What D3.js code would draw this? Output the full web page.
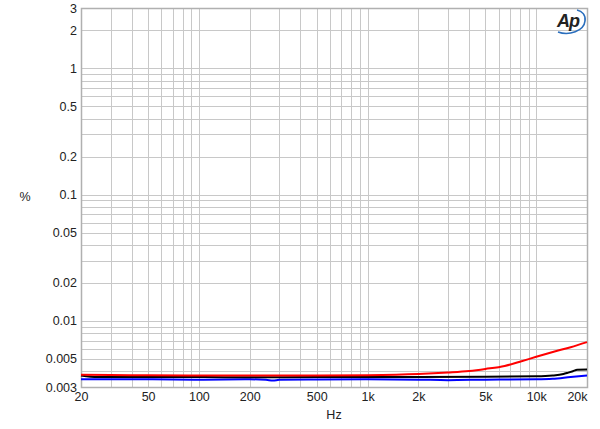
<!DOCTYPE html>
<html>
<head>
<meta charset="utf-8">
<script src="https://cdn.jsdelivr.net/npm/d3@7"></script>
<style>
  body { margin: 0; background: #fff; }
  svg text { font-family: 'Liberation Sans', Arial, sans-serif; fill: #222; }
</style>
</head>
<body>
<script>
// frequencies (Hz) and THD+N (%)
const redFreq = [20, 30, 50, 100, 200, 500, 1000, 2000, 3000, 4000, 5000, 6500, 8000, 10000, 13000, 16000, 20000];
const redPct = [0.00375, 0.00373, 0.00372, 0.0037, 0.0037, 0.0037, 0.00372, 0.0038, 0.00391, 0.00402, 0.00417, 0.0044, 0.00476, 0.0052, 0.00575, 0.0062, 0.0068];

const blackFreq = [20, 25, 50, 100, 200, 500, 1000, 2000, 5000, 10000, 12500, 14500, 15500, 16500, 17500, 20000];
const blackPct = [0.0037, 0.0036, 0.0036, 0.0036, 0.00358, 0.0036, 0.0036, 0.0036, 0.00362, 0.00365, 0.0037, 0.0038, 0.0039, 0.004, 0.0041, 0.00412];

const blueFreq = [20, 50, 100, 200, 250, 275, 300, 500, 1000, 2000, 3000, 5000, 10000, 12500, 16000, 20000];
const bluePct = [0.00345, 0.00345, 0.00343, 0.00345, 0.00342, 0.00337, 0.00342, 0.00344, 0.00345, 0.00343, 0.0034, 0.00343, 0.00345, 0.00348, 0.0036, 0.0037];

const xTicks = [20, 50, 100, 200, 500, 1000, 2000, 5000, 10000, 20000];
const xTickLabels = ['20', '50', '100', '200', '500', '1k', '2k', '5k', '10k', '20k'];
const yTicks = [0.003, 0.005, 0.01, 0.02, 0.05, 0.1, 0.2, 0.5, 1, 2, 3];
const yTickLabels = ['0.003', '0.005', '0.01', '0.02', '0.05', '0.1', '0.2', '0.5', '1', '2', '3'];

const w = 600;
const h = 429;
const plotLeft = 81, plotRight = 587, plotTop = 8, plotBottom = 387;

const svg = d3.select('body').append('svg').attr('width', w).attr('height', h);

const x = d3.scaleLog().domain([20, 20000]).range([plotLeft, plotRight]);
const y = d3.scaleLog().domain([0.003, 3]).range([plotBottom, plotTop]);

// minor grid values: 1..9 times each decade
const gridX = [];
for (let d = 10; d <= 10000; d *= 10) {
  for (let m = 1; m < 10; m++) {
    const v = d * m;
    if (v >= 20 && v <= 20000) gridX.push(v);
  }
}
const gridY = [];
for (let d = 0.001; d <= 1.5; d *= 10) {
  for (let m = 1; m < 10; m++) {
    const v = +(d * m).toPrecision(3);
    if (v >= 0.003 && v <= 3) gridY.push(v);
  }
}

// grid
svg.append('g')
  .selectAll('line')
  .data(gridX)
  .enter()
  .append('line')
  .attr('x1', (d) => Math.round(x(d)) + 0.5)
  .attr('x2', (d) => Math.round(x(d)) + 0.5)
  .attr('y1', plotTop)
  .attr('y2', plotBottom)
  .attr('stroke', '#c8c8c8')
  .attr('stroke-width', 1);

svg.append('g')
  .selectAll('line')
  .data(gridY)
  .enter()
  .append('line')
  .attr('x1', plotLeft)
  .attr('x2', plotRight)
  .attr('y1', (d) => Math.round(y(d)) + 0.5)
  .attr('y2', (d) => Math.round(y(d)) + 0.5)
  .attr('stroke', '#c8c8c8')
  .attr('stroke-width', 1);

// frame
svg.append('rect')
  .attr('x', plotLeft + 0.5)
  .attr('y', plotTop + 0.5)
  .attr('width', plotRight - plotLeft)
  .attr('height', plotBottom - plotTop)
  .attr('fill', 'none')
  .attr('stroke', '#b0b0b0')
  .attr('stroke-width', 1.5);

// axes labels
const xAxis = d3.axisBottom(x)
  .tickValues(xTicks)
  .tickFormat((d, i) => xTickLabels[i])
  .tickSize(0)
  .tickPadding(5);

const gx = svg.append('g')
  .attr('transform', `translate(0, ${plotBottom})`)
  .call(xAxis);
gx.select('.domain').remove();
gx.selectAll('text')
  .style('font-size', '12.5px')
  .attr('fill', '#222')
  .attr('x', (d) => (d === 20000 ? -10 : 0));

const yAxis = d3.axisLeft(y)
  .tickValues(yTicks)
  .tickFormat((d, i) => yTickLabels[i])
  .tickSize(0)
  .tickPadding(4);

const gy = svg.append('g')
  .attr('transform', `translate(${plotLeft}, 0)`)
  .call(yAxis);
gy.select('.domain').remove();
gy.selectAll('text')
  .style('font-size', '12.5px')
  .attr('fill', '#222');

svg.append('text')
  .attr('x', 25)
  .attr('y', 201)
  .attr('text-anchor', 'middle')
  .style('font-size', '12.5px')
  .text('%');

svg.append('text')
  .attr('x', 334)
  .attr('y', 419)
  .attr('text-anchor', 'middle')
  .style('font-size', '12.5px')
  .text('Hz');

// curves
const line = d3.line()
  .x((d) => x(d[0]))
  .y((d) => y(d[1]))
  .curve(d3.curveMonotoneX);

const series = [
  { f: blueFreq, v: bluePct, color: '#0000ff' },
  { f: blackFreq, v: blackPct, color: '#000000' },
  { f: redFreq, v: redPct, color: '#ff0000' },
];

svg.append('g')
  .selectAll('path')
  .data(series)
  .enter()
  .append('path')
  .attr('d', (s) => line(s.f.map((f, i) => [f, s.v[i]])))
  .attr('fill', 'none')
  .attr('stroke', (s) => s.color)
  .attr('stroke-width', 2);

// Ap logo
const logo = svg.append('g').attr('transform', 'translate(555, 10)');
logo.append('text')
  .attr('x', 2)
  .attr('y', 17)
  .style('font-size', '18px')
  .style('font-style', 'italic')
  .style('font-weight', 'bold')
  .style('letter-spacing', '-1px')
  .attr('fill', '#2a6ebd')
  .text('Ap');
logo.append('path')
  .attr('d', 'M3,22 C14,26 29,21 30,11 C31,5 27,1 22,0')
  .attr('fill', 'none')
  .attr('stroke', '#2a6ebd')
  .attr('stroke-width', 1.6);
</script>
</body>
</html>
